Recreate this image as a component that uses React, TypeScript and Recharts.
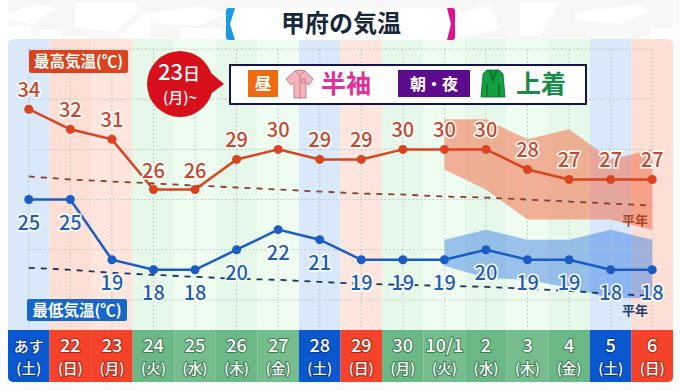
import { Area, ComposedChart, LabelList, Line, Rectangle, ReferenceArea, ReferenceLine, XAxis, YAxis } from 'recharts'

const FONT = '"Noto Sans CJK JP", "Noto Sans", sans-serif'

const dates = ['あす', '22', '23', '24', '25', '26', '27', '28', '29', '30', '10/1', '2', '3', '4', '5', '6']
const weekdays = ['土', '日', '月', '火', '水', '木', '金', '土', '日', '月', '火', '水', '木', '金', '土', '日']
const kinds = ['sat', 'sun', 'sun', 'wk', 'wk', 'wk', 'wk', 'sat', 'sun', 'wk', 'wk', 'wk', 'wk', 'wk', 'sat', 'sun']

const highs = [34, 32, 31, 26, 26, 29, 30, 29, 29, 30, 30, 30, 28, 27, 27, 27]
const lows = [25, 25, 19, 18, 18, 20, 22, 21, 19, 19, 19, 20, 19, 19, 18, 18]
const normalHighs = [27.3, 27.0, 26.8, 26.6, 26.4, 26.2, 26.0, 25.8, 25.6, 25.5, 25.3, 25.2, 25.0, 24.8, 24.6, 24.4]
const normalLows = [18.2, 18.0, 17.7, 17.5, 17.3, 17.1, 17.0, 16.8, 16.6, 16.5, 16.4, 16.3, 16.1, 15.9, 15.6, 15.4]

const highTop = [null, null, null, null, null, null, null, null, null, null, 33, 33, 31, 32, 29, 30]
const highBottom = [null, null, null, null, null, null, null, null, null, null, 28, 26, 23, 23, 23, 22]
const lowTop = [null, null, null, null, null, null, null, null, null, null, 21, 22, 21, 21, 22, 21]
const lowBottom = [null, null, null, null, null, null, null, null, null, null, 18.4, 17.2, 17, 16.2, 15.2, 15.2]

const gridValues = [40, 35, 30, 25, 20, 15]

const data = dates.map((d, i) => ({
  date: d,
  high: highs[i],
  low: lows[i],
  normalHigh: normalHighs[i],
  normalLow: normalLows[i],
  highRange: highTop[i] === null ? null : [highBottom[i], highTop[i]],
  lowRange: lowTop[i] === null ? null : [lowBottom[i], lowTop[i]],
}))

function backFill(i: number) {
  if (kinds[i] === 'sat') return '#d9e9fb'
  if (kinds[i] === 'sun') return i % 2 ? '#fddfd5' : '#fee6de'
  return i % 2 ? '#e6f8e9' : '#effdf1'
}

function stripFill(i: number) {
  if (kinds[i] === 'sat') return '#0a58d0'
  if (kinds[i] === 'sun') return '#f4432a'
  return i % 2 ? '#6cb786' : '#76bd8e'
}

function stripHalo(i: number) {
  if (kinds[i] === 'sat') return '#0a3a8c'
  if (kinds[i] === 'sun') return '#a82a1a'
  return '#3f7a55'
}

function DateTick({ x, y, index }: any) {
  const w = 41.6
  const last = dates.length - 1
  const radius = index === 0 ? [0, 0, 0, 5] : index === last ? [0, 0, 5, 0] : 0
  const textStyle = { fontFamily: FONT, fontWeight: 500, paintOrder: 'stroke' as const }
  return (
    <g>
      <Rectangle x={x - w / 2} y={y} width={w} height={52} fill={stripFill(index)} radius={radius as any} />
      <text x={x} y={y + 22} textAnchor="middle" fill="#fff" fontSize={index === 0 ? 15 : 18} stroke={stripHalo(index)} strokeWidth={2} style={textStyle}>
        {dates[index]}
      </text>
      <text x={x} y={y + 44} textAnchor="middle" fill="#fff" fontSize={14.5} stroke={stripHalo(index)} strokeWidth={2} style={textStyle}>
        {`(${weekdays[index]})`}
      </text>
    </g>
  )
}

const valueLabel = (color: string, dy: number) => (props: any) => (
  <text
    x={props.x}
    y={props.y + dy}
    textAnchor="middle"
    fill={color}
    fontSize={20}
    fontWeight={500}
    stroke="#fff"
    strokeWidth={3}
    style={{ fontFamily: FONT, paintOrder: 'stroke' }}
  >
    {props.value}
  </text>
)

function Overlay() {
  const t = { fontFamily: FONT, fontWeight: 700 }
  const m = { fontFamily: FONT, fontWeight: 500 }
  return (
    <svg width={680} height={391} style={{ position: 'absolute', left: 0, top: 0 }}>
      {/* title */}
      <rect x={226} y={8} width={12} height={32} rx={3} fill="#1a9ae0" />
      <rect x={444} y={8} width={11} height={32} rx={3} fill="#e0148a" />
      <path d="M235 8 H447 L451 24 L447 40 H235 L230 24 Z" fill="#fff" />
      <text x={341} y={32} textAnchor="middle" fontSize={24} fill="#16283a" style={t}>甲府の気温</text>

      {/* temperature tags */}
      <rect x={29} y={50} width={99} height={23} rx={2} fill="#d9431e" />
      <text x={78.5} y={67} textAnchor="middle" fontSize={15.5} fill="#fff" style={t}>最高気温(℃)</text>
      <rect x={27} y={299} width={100} height={22} rx={2} fill="#1668c8" />
      <text x={77} y={316} textAnchor="middle" fontSize={15.5} fill="#fff" style={t}>最低気温(℃)</text>

      {/* callout */}
      <path d="M205 68 L224 84 L205 98 Z" fill="#d8101c" />
      <circle cx={180} cy={84} r={33} fill="#d8101c" />
      <text x={179} y={80} textAnchor="middle" fontSize={22} fill="#fff" style={m}>
        23<tspan fontSize={17}>日</tspan>
      </text>
      <text x={180} y={103} textAnchor="middle" fontSize={15} fill="#fff" style={m}>(月)~</text>

      {/* clothing legend */}
      <rect x={230} y={65} width={356} height={39} fill="#fff" stroke="#14144c" strokeWidth={2} />
      <rect x={248} y={70} width={30} height={27} fill="#f06a10" />
      <text x={263} y={90} textAnchor="middle" fontSize={17} fill="#fff" style={t}>昼</text>
      <path d="M295 71 L300 70 L305 71 L313 79 L309 85 L306 83 L306 98 L294 98 L294 83 L291 85 L286 79 Z" fill="#f5b3bb" stroke="#a8707a" strokeWidth={0.8} />
      <path d="M295 71 L300 75 L305 71 M300 75 L300 98 M302 79 H305 V83 H302 Z" fill="none" stroke="#a8707a" strokeWidth={0.7} />
      <text x={346} y={93} textAnchor="middle" fontSize={25} fill="#e0309a" style={t}>半袖</text>
      <rect x={398} y={70} width={72} height={27} fill="#5e0a8c" />
      <text x={434} y={90} textAnchor="middle" fontSize={16} fill="#fff" style={t}>朝・夜</text>
      <path d="M487 70 L499 70 L503 74 L505 97 L499 97 L499 84 L499 97 L487 97 L487 84 L487 97 L481 97 L483 74 Z" fill="#14a040" stroke="#0c6a2a" strokeWidth={0.8} />
      <path d="M488 70 L493 84 L498 70 L495 70 L493 76 L491 70 Z" fill="#0c7a30" />
      <text x={541} y={93} textAnchor="middle" fontSize={25} fill="#1a8a4a" style={t}>上着</text>

      {/* normal tags */}
      <text x={635} y={225} textAnchor="middle" fontSize={13} fill="#a8452a" style={t}>平年</text>
      <text x={635} y={315} textAnchor="middle" fontSize={13} fill="#1c3d70" style={t}>平年</text>
    </svg>
  )
}

export default function App() {
  const first = dates[0]
  const end = dates[dates.length - 1]
  return (
    <div style={{ position: 'absolute', left: 0, top: 0, width: 680, height: 391, background: '#fff', overflow: 'hidden' }}>
      <svg width={680} height={391} style={{ position: 'absolute', left: 0, top: 0 }}>
        <rect width={680} height={391} fill="#f7f7f7" />
        <path d="M5 14 L34 4 L58 8 L32 24 L5 20 Z M75 2 L135 2 L140 10 L115 32 L75 28 Z M138 14 L200 6 L225 14 L200 26 L160 24 Z" fill="#fff" />
        <path d="M0 26 L30 26 L34 40 L0 40 Z M40 30 L62 30 L62 40 L40 40 Z M120 34 L150 10 L150 40 L120 40 Z M180 28 L220 28 L226 40 L180 40 Z" fill="#fff" />
        <path d="M456 14 L490 4 L500 30 L456 38 Z M520 2 L560 2 L540 36 L520 36 Z M575 12 L640 4 L648 12 L620 24 L575 20 Z M650 28 L680 28 L680 40 L650 40 Z" fill="#fff" />
        <rect x={0} y={0} width={8} height={391} fill="#fff" />
        <rect x={673} y={0} width={7} height={391} fill="#fbfbfb" />
        <rect x={0} y={382} width={680} height={9} fill="#fbfbfb" />
      </svg>
      <ComposedChart
        width={680}
        height={391}
        data={data}
        margin={{ top: 39, right: 7, bottom: 9, left: 8 }}
        style={{ position: 'absolute', left: 0, top: 0 }}
      >
        <XAxis dataKey="date" scale="band" height={52} interval={0} axisLine={false} tickLine={false} tickSize={0} tickMargin={0} tick={<DateTick />} />
        <YAxis hide domain={[12, 41]} />
        {dates.map((d, i) => (
          <ReferenceArea
            key={`back-${d}`}
            x1={d}
            x2={d}
            fill={backFill(i)}
            fillOpacity={1}
            stroke="none"
            radius={(i === 0 ? [6, 0, 0, 0] : i === dates.length - 1 ? [0, 6, 0, 0] : 0) as any}
          />
        ))}
        {gridValues.map((v) => (
          <ReferenceLine
            key={v}
            segment={[{ x: first, y: v }, { x: end, y: v }]}
            stroke="#b6c3b8"
            strokeDasharray="1.5 2.5"
          />
        ))}
        {dates.map((d) => (
          <ReferenceLine
            key={d}
            segment={[{ x: d, y: 40 }, { x: d, y: 12 }]}
            stroke="#b6c3b8"
            strokeDasharray="1.5 2.5"
          />
        ))}
        <Area dataKey="highRange" stroke="none" fill="#f4643c" fillOpacity={0.5} dot={false} activeDot={false} isAnimationActive={false} />
        <Area dataKey="lowRange" stroke="none" fill="#2f78e4" fillOpacity={0.45} dot={false} activeDot={false} isAnimationActive={false} />
        <Line dataKey="normalHigh" stroke="#8a3f30" strokeWidth={1.8} strokeDasharray="6 6" dot={false} activeDot={false} isAnimationActive={false} />
        <Line dataKey="normalLow" stroke="#1c3560" strokeWidth={1.8} strokeDasharray="6 6" dot={false} activeDot={false} isAnimationActive={false} />
        <Line dataKey="high" stroke="#d9431e" strokeWidth={2.5} dot={{ r: 4.5, fill: '#d9431e', stroke: '#d9431e', strokeWidth: 0 }} activeDot={false} isAnimationActive={false}>
          <LabelList dataKey="high" content={valueLabel('#c4492c', -12)} />
        </Line>
        <Line dataKey="low" stroke="#1b5cc4" strokeWidth={2.5} dot={{ r: 4.5, fill: '#1b5cc4', stroke: '#1b5cc4', strokeWidth: 0 }} activeDot={false} isAnimationActive={false}>
          <LabelList dataKey="low" content={valueLabel('#1f5fb0', 30)} />
        </Line>
      </ComposedChart>
      <Overlay />
    </div>
  )
}
